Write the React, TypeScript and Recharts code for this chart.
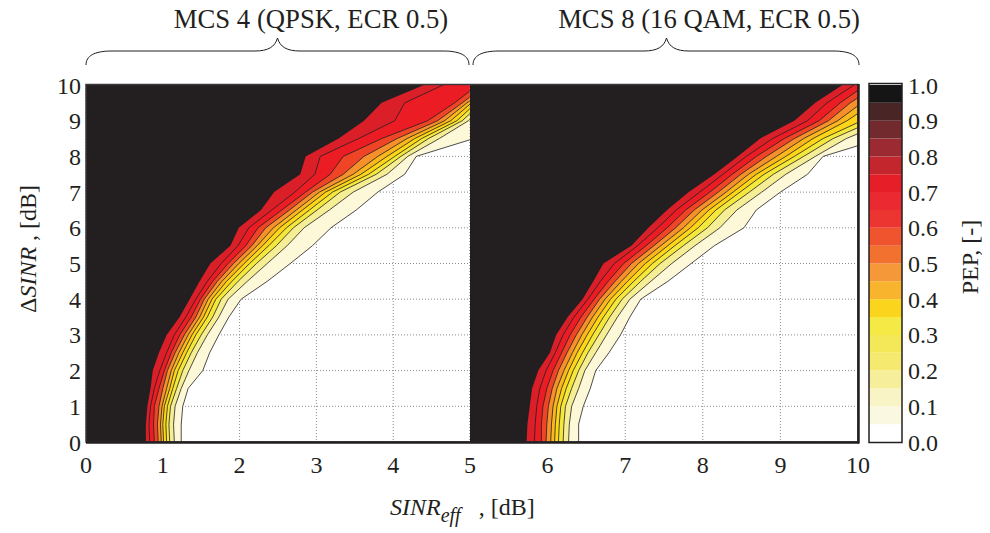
import React from 'react';
import { ComposedChart, Area, XAxis, YAxis, CartesianGrid, BarChart, Bar } from 'recharts';

// ΔSINR rows at which the contour edges were read
const deltaSinr = [0, 0.5, 1, 1.5, 2, 2.5, 3, 3.5, 4, 4.5, 5, 5.5, 6, 6.5, 7, 7.5, 8, 8.5, 9, 9.5, 10];

// SINR_eff of each contour edge, from the black side (high PEP) to the white side
const mcs4Edges = [
  [0.78, 0.83, 0.89, 0.94, 0.98, 1.01, 1.05, 1.09, 1.15, 1.24],
  [0.78, 0.82, 0.88, 0.93, 0.97, 1.0, 1.04, 1.08, 1.14, 1.24],
  [0.8, 0.84, 0.89, 0.95, 0.99, 1.02, 1.06, 1.1, 1.16, 1.26],
  [0.84, 0.89, 0.95, 1.0, 1.05, 1.09, 1.13, 1.18, 1.24, 1.33],
  [0.87, 0.96, 1.02, 1.06, 1.11, 1.15, 1.2, 1.26, 1.34, 1.52],
  [0.95, 1.05, 1.11, 1.16, 1.21, 1.26, 1.31, 1.37, 1.45, 1.61],
  [1.05, 1.15, 1.22, 1.28, 1.33, 1.38, 1.43, 1.5, 1.58, 1.73],
  [1.22, 1.3, 1.37, 1.43, 1.48, 1.53, 1.58, 1.65, 1.73, 1.86],
  [1.35, 1.43, 1.49, 1.54, 1.59, 1.64, 1.69, 1.76, 1.85, 2.02],
  [1.48, 1.58, 1.65, 1.71, 1.77, 1.83, 1.9, 1.98, 2.1, 2.36],
  [1.62, 1.76, 1.85, 1.92, 1.99, 2.06, 2.13, 2.22, 2.36, 2.66],
  [1.88, 1.98, 2.08, 2.16, 2.23, 2.3, 2.38, 2.48, 2.62, 2.95],
  [1.99, 2.12, 2.24, 2.34, 2.44, 2.52, 2.61, 2.7, 2.84, 3.19],
  [2.28, 2.42, 2.55, 2.65, 2.74, 2.82, 2.91, 3.01, 3.17, 3.52],
  [2.45, 2.72, 2.86, 2.95, 3.04, 3.12, 3.21, 3.31, 3.48, 3.8],
  [2.79, 2.98, 3.18, 3.35, 3.48, 3.58, 3.68, 3.78, 3.92, 4.15],
  [2.86, 3.05, 3.35, 3.62, 3.8, 3.92, 4.02, 4.1, 4.19, 4.3],
  [3.29, 3.55, 3.85, 4.05, 4.18, 4.28, 4.37, 4.46, 4.6, 5.05],
  [3.62, 4.02, 4.45, 4.58, 4.67, 4.75, 4.83, 4.9, 4.98, 5.3],
  [3.85, 4.15, 4.8, 4.9, 4.96, 5.02, 5.08, 5.15, 5.25, 5.6],
  [4.4, 4.65, 5.1, 5.2, 5.3, 5.4, 5.5, 5.6, 5.75, 6.0],
];

const mcs8Edges = [
  [5.73, 5.83, 5.92, 5.98, 6.04, 6.09, 6.14, 6.2, 6.27, 6.4],
  [5.74, 5.84, 5.92, 5.99, 6.05, 6.1, 6.15, 6.21, 6.28, 6.4],
  [5.77, 5.86, 5.94, 6.01, 6.07, 6.12, 6.17, 6.23, 6.31, 6.46],
  [5.8, 5.9, 5.99, 6.06, 6.12, 6.18, 6.24, 6.31, 6.4, 6.55],
  [5.88, 5.98, 6.07, 6.14, 6.21, 6.27, 6.33, 6.4, 6.48, 6.62],
  [6.03, 6.1, 6.18, 6.25, 6.32, 6.38, 6.45, 6.52, 6.62, 6.79],
  [6.11, 6.2, 6.29, 6.37, 6.44, 6.51, 6.58, 6.66, 6.76, 6.94],
  [6.26, 6.34, 6.43, 6.51, 6.58, 6.65, 6.72, 6.8, 6.9, 7.06],
  [6.45, 6.52, 6.6, 6.67, 6.74, 6.81, 6.88, 6.96, 7.06, 7.2],
  [6.59, 6.68, 6.78, 6.87, 6.95, 7.03, 7.11, 7.2, 7.33, 7.55],
  [6.72, 6.86, 6.98, 7.08, 7.17, 7.26, 7.35, 7.45, 7.6, 7.85],
  [7.08, 7.16, 7.27, 7.37, 7.46, 7.55, 7.64, 7.75, 7.9, 8.15],
  [7.3, 7.42, 7.54, 7.65, 7.75, 7.84, 7.94, 8.06, 8.22, 8.53],
  [7.54, 7.66, 7.78, 7.89, 7.99, 8.08, 8.17, 8.28, 8.44, 8.69],
  [7.82, 7.96, 8.09, 8.2, 8.3, 8.39, 8.48, 8.6, 8.76, 9.0],
  [8.15, 8.26, 8.38, 8.49, 8.59, 8.69, 8.79, 8.91, 9.07, 9.35],
  [8.45, 8.56, 8.69, 8.82, 8.95, 9.07, 9.18, 9.3, 9.45, 9.55],
  [8.74, 8.9, 9.05, 9.18, 9.3, 9.42, 9.55, 9.68, 9.85, 10.3],
  [9.18, 9.35, 9.5, 9.62, 9.74, 9.86, 10.05, 10.2, 10.4, 10.6],
  [9.45, 9.6, 9.77, 9.9, 10.05, 10.2, 10.35, 10.5, 10.7, 10.9],
  [9.8, 9.95, 10.1, 10.25, 10.4, 10.55, 10.7, 10.85, 11.0, 11.2],
];

// fill left of each edge (edge 0 = black region)
const bandColors = ['#231f20', '#da1f29', '#ec1c24', '#ef4526', '#f6902a', '#fbb81c', '#fcd617', '#f5e83c', '#f6ee95', '#fcf8d8'];

const pepLevels = [0, 0.05, 0.1, 0.15, 0.2, 0.25, 0.3, 0.35, 0.4, 0.45, 0.5, 0.55, 0.6, 0.65, 0.7, 0.75, 0.8, 0.85, 0.9, 0.95, 1.0];
const pepColors = [
  '#ffffff', '#fbf8e2', '#f9f4c6', '#f7ee9c', '#f5ea6f', '#f4e859', '#f5e945', '#fbd41e', '#f8b42d', '#f5983a',
  '#f2712e', '#ef542e', '#ec3531', '#ea2a30', '#e51e28', '#c4262e', '#9c2a33', '#722a2e', '#4a2525', '#151515',
];
const pepTicks = [0, 0.1, 0.2, 0.3, 0.4, 0.5, 0.6, 0.7, 0.8, 0.9, 1.0];

const mcs4Ticks = [0, 1, 2, 3, 4];
const mcs8Ticks = [5, 6, 7, 8, 9, 10];
const deltaTicks = [0, 1, 2, 3, 4, 5, 6, 7, 8, 9, 10];

const FONT = '"Liberation Serif", "Times New Roman", serif';
const INK = '#231f20';

const toRows = (edges: number[][]) =>
  deltaSinr.map((y, i) => {
    const row: Record<string, number> = { y };
    edges[i].forEach((v, k) => (row['b' + k] = v));
    return row;
  });

const mcs4Rows = toRows(mcs4Edges);
const mcs8Rows = toRows(mcs8Edges);

const pepRow: Record<string, any> = { name: 'PEP' };
pepLevels.slice(1).forEach((lv, i) => (pepRow['s' + i] = +(lv - pepLevels[i]).toFixed(2)));

const tickStyle = { fontSize: 24, fill: INK, fontFamily: FONT };

function contourAreas() {
  return bandColors
    .map((_, k) => k)
    .reverse()
    .map((k) => (
      <Area
        key={k}
        dataKey={'b' + k}
        type="linear"
        fill={bandColors[k]}
        fillOpacity={1}
        stroke={k === 0 ? 'none' : INK}
        strokeWidth={0.8}
        dot={false}
        activeDot={false}
        isAnimationActive={false}
      />
    ));
}

export default function App() {
  return (
    <div style={{ position: 'absolute', left: 0, top: 0, width: 990, height: 533, background: '#fff', fontFamily: FONT }}>
      {/* MCS 4 panel */}
      <div style={{ position: 'absolute', left: 0, top: 65 }}>
        <ComposedChart width={470} height={430} layout="vertical" data={mcs4Rows} margin={{ top: 20, right: 0, bottom: 20, left: 0 }}>
          <CartesianGrid stroke="#8c8c8c" strokeDasharray="1 2" />
          <XAxis type="number" domain={[0, 5]} ticks={mcs4Ticks} interval={0} allowDataOverflow height={33}
            tickSize={0} tickMargin={14} axisLine={false} tick={tickStyle} />
          <YAxis type="number" dataKey="y" domain={[0, 10]} ticks={deltaTicks} interval={0} reversed allowDataOverflow
            width={86} tickSize={0} tickMargin={5} axisLine={false} tick={tickStyle} />
          {contourAreas()}
        </ComposedChart>
      </div>

      {/* MCS 8 panel */}
      <div style={{ position: 'absolute', left: 460, top: 65 }}>
        <ComposedChart width={420} height={430} layout="vertical" data={mcs8Rows} margin={{ top: 20, right: 22, bottom: 20, left: 10 }}>
          <CartesianGrid stroke="#8c8c8c" strokeDasharray="1 2" />
          <XAxis type="number" domain={[5, 10]} ticks={mcs8Ticks} interval={0} allowDataOverflow height={33}
            tickSize={0} tickMargin={14} axisLine={false} tick={tickStyle} />
          <YAxis type="number" dataKey="y" domain={[0, 10]} ticks={deltaTicks} reversed allowDataOverflow hide width={0} />
          {contourAreas()}
        </ComposedChart>
      </div>

      {/* colour bar */}
      <div style={{ position: 'absolute', left: 869, top: 65 }}>
        <BarChart width={103} height={430} data={[pepRow]} margin={{ top: 20, right: 0, bottom: 53, left: 0 }} barCategoryGap={0}>
          <XAxis dataKey="name" hide />
          <YAxis orientation="right" type="number" domain={[0, 1]} ticks={pepTicks} interval={0} width={70}
            tickFormatter={(v: number) => v.toFixed(1)} tickSize={0} tickMargin={6} axisLine={false} tick={tickStyle} />
          {pepColors.map((c, i) => (
            <Bar key={i} dataKey={'s' + i} stackId="pep" fill={c} isAnimationActive={false} />
          ))}
        </BarChart>
      </div>

      {/* frames, braces and labels */}
      <svg width={990} height={533} style={{ position: 'absolute', left: 0, top: 0, pointerEvents: 'none' }} fontFamily={FONT}>
        <rect x={86} y={84.5} width={772} height={357.5} fill="none" stroke="#3a3a3a" strokeWidth={1.5} />
        <line x1={86} y1={442.5} x2={859} y2={442.5} stroke={INK} strokeWidth={2.5} />
        <line x1={858.5} y1={84} x2={858.5} y2={443.5} stroke={INK} strokeWidth={2.5} />
        <rect x={869} y={83.5} width={33} height={359} fill="none" stroke={INK} strokeWidth={1.5} />

        <path d="M86,65 C86,56 94,51 112,51 L255,51 C268,51 275,47 277.5,38 C280,47 287,51 300,51 L443,51 C461,51 469,56 469,65"
          fill="none" stroke={INK} strokeWidth={1} />
        <path d="M473,65 C473,56 481,51 499,51 L644,51 C657,51 664,47 666.5,38 C669,47 676,51 689,51 L833,51 C851,51 859,56 859,65"
          fill="none" stroke={INK} strokeWidth={1} />

        <text x={311} y={28} textAnchor="middle" fontSize={26.7} fill={INK}>MCS 4 (QPSK, ECR 0.5)</text>
        <text x={709} y={28} textAnchor="middle" fontSize={26.7} fill={INK}>MCS 8 (16 QAM, ECR 0.5)</text>

        <text x={390} y={515} fontSize={24} fill={INK}>
          <tspan fontStyle="italic">SINR</tspan>
          <tspan fontStyle="italic" fontSize={20} dy={7}>eff</tspan>
          <tspan dy={-7} dx={18}>, [dB]</tspan>
        </text>

        <text transform="rotate(-90 36 249)" x={36} y={249} textAnchor="middle" fontSize={24} fill={INK}>
          Δ<tspan fontStyle="italic">SINR</tspan> , [dB]
        </text>

        <text transform="rotate(-90 978 257)" x={978} y={257} textAnchor="middle" fontSize={24} fill={INK}>
          PEP,  [-]
        </text>
      </svg>
    </div>
  );
}
